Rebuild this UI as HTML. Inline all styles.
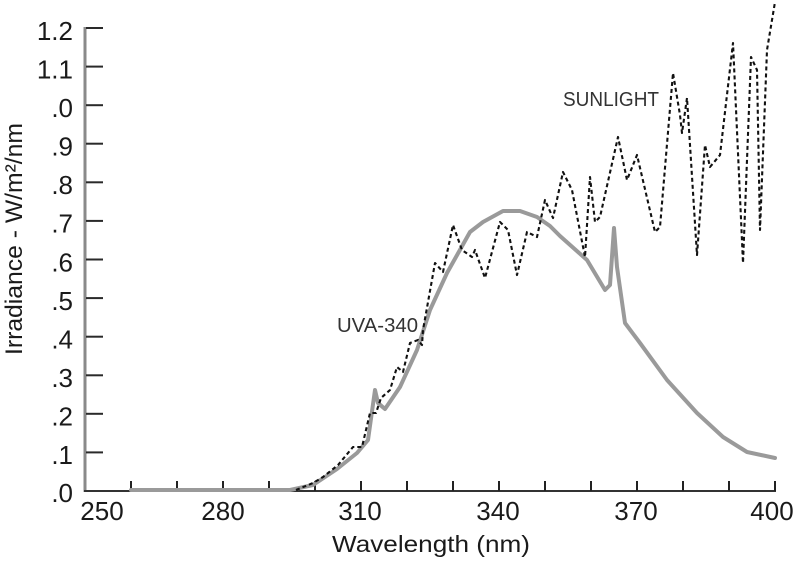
<!DOCTYPE html>
<html>
<head>
<meta charset="utf-8">
<style>
  html, body { margin: 0; padding: 0; background: #ffffff; }
  svg { display: block; }
  text { font-family: "Liberation Sans", "DejaVu Sans", sans-serif; fill: #1a1a1a; }
</style>
</head>
<body>
<svg width="800" height="563" viewBox="0 0 800 563" xmlns="http://www.w3.org/2000/svg">
  <!-- Y axis -->
  <rect x="83.5" y="27" width="3" height="465" fill="#8a8a8a"/>
  <g fill="#2a2a2a">
    <rect x="86" y="27" width="17" height="2"/>
    <rect x="86" y="65.6" width="17" height="2"/>
    <rect x="86" y="104.2" width="17" height="2"/>
    <rect x="86" y="142.7" width="17" height="2"/>
    <rect x="86" y="181.3" width="17" height="2"/>
    <rect x="86" y="219.9" width="17" height="2"/>
    <rect x="86" y="258.5" width="17" height="2"/>
    <rect x="86" y="297.1" width="17" height="2"/>
    <rect x="86" y="335.7" width="17" height="2"/>
    <rect x="86" y="374.3" width="17" height="2"/>
    <rect x="86" y="412.8" width="17" height="2"/>
    <rect x="86" y="451.4" width="17" height="2"/>
  </g>
  <g font-size="26" text-anchor="end">
    <text x="73" y="40">1.2</text>
    <text x="73" y="78.6">1.1</text>
    <text x="73" y="117">.0</text>
    <text x="73" y="155.5">.9</text>
    <text x="73" y="194">.8</text>
    <text x="73" y="232.7">.7</text>
    <text x="73" y="271.3">.6</text>
    <text x="73" y="310">.5</text>
    <text x="73" y="348.5">.4</text>
    <text x="73" y="387">.3</text>
    <text x="73" y="425.5">.2</text>
    <text x="73" y="464">.1</text>
    <text x="73" y="502">.0</text>
  </g>
  <text transform="translate(22,239) rotate(-90)" font-size="24" text-anchor="middle" textLength="232" lengthAdjust="spacingAndGlyphs">Irradiance - W/m²/nm</text>

  <!-- X axis -->
  <rect x="84" y="490" width="692" height="2" fill="#333"/>
  <g fill="#222">
    <rect x="130" y="481" width="2" height="10"/>
    <rect x="176" y="481" width="2" height="10"/>
    <rect x="222" y="481" width="2" height="10"/>
    <rect x="268" y="481" width="2" height="10"/>
    <rect x="314" y="481" width="2" height="10"/>
    <rect x="360" y="481" width="2" height="10"/>
    <rect x="406" y="481" width="2" height="10"/>
    <rect x="452" y="481" width="2" height="10"/>
    <rect x="498" y="481" width="2" height="10"/>
    <rect x="544" y="481" width="2" height="10"/>
    <rect x="590" y="481" width="2" height="10"/>
    <rect x="636" y="481" width="2" height="10"/>
    <rect x="682" y="481" width="2" height="10"/>
    <rect x="728" y="481" width="2" height="10"/>
    <rect x="774" y="481" width="2" height="10"/>
  </g>
  <g font-size="26" text-anchor="middle">
    <text x="102" y="520">250</text>
    <text x="223" y="520">280</text>
    <text x="360" y="520">310</text>
    <text x="498" y="520">340</text>
    <text x="636" y="520">370</text>
    <text x="772" y="520">400</text>
  </g>
  <text x="431" y="552" font-size="23" text-anchor="middle" textLength="198" lengthAdjust="spacingAndGlyphs">Wavelength (nm)</text>

  <!-- UVA-340 curve -->
  <polyline fill="none" stroke="#9a9a9a" stroke-width="4" stroke-linejoin="round" stroke-linecap="round"
    points="131,490 290,490 313,485 337,469 357,453 368,440 375,390 378,403 385,409 400,387 417,350 430,310 447,273 470,232 483,222 503,211 520,211 537,217 550,226 560,236 587,260 605,290 610,285 614,228 617,267 625,323 640,343 667,380 697,413 723,437 747,452 775,458"/>

  <!-- Sunlight dashed curve -->
  <polyline fill="none" stroke="#111" stroke-width="2.1" stroke-dasharray="4,3" stroke-linejoin="round"
    points="296,490 313,483 323,477 338,465 353,447 362,447 370,413 376,413 381,398 390,390 397,367 403,372 410,343 418,340 422,345 423,330 435,263 443,272 453,225 462,250 472,257 475,250 485,278 500,222 508,230 517,275 527,232 537,237 545,200 553,218 563,172 572,190 585,257 590,177 595,222 600,217 618,137 627,180 637,155 655,232 660,227 673,73 680,115 682,133 687,98 697,255 705,145 710,167 720,155 733,43 743,263 751,57 757,70 760,230 767,50 775,2"/>

  <!-- Labels -->
  <text x="563" y="106" font-size="20" style="fill:#333" textLength="96" lengthAdjust="spacingAndGlyphs">SUNLIGHT</text>
  <text x="337" y="332" font-size="20" style="fill:#333" textLength="81" lengthAdjust="spacingAndGlyphs">UVA-340</text>
</svg>
</body>
</html>
